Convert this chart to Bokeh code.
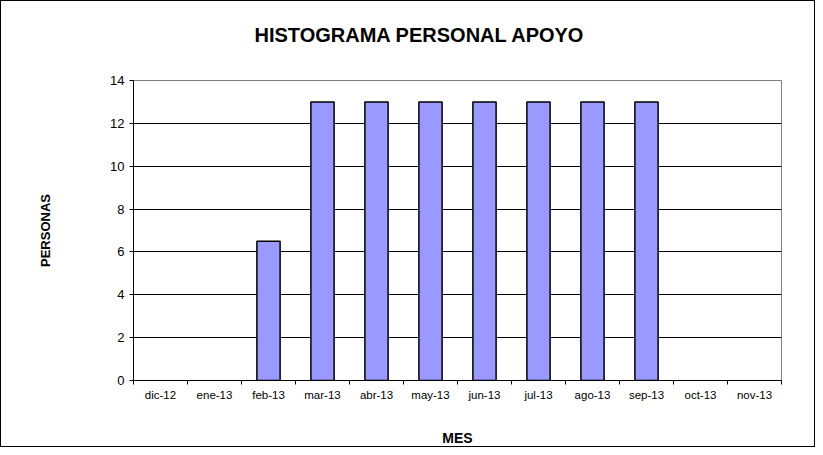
from bokeh.plotting import figure
from bokeh.models import FixedTicker, Range1d, Title, ColumnDataSource
from bokeh.embed import file_html
from bokeh.resources import INLINE

months = ["dic-12", "ene-13", "feb-13", "mar-13", "abr-13", "may-13",
          "jun-13", "jul-13", "ago-13", "sep-13", "oct-13", "nov-13"]
personas = [0, 0, 6.5, 13, 13, 13, 13, 13, 13, 13, 0, 0]
y_ticks = [0, 2, 4, 6, 8, 10, 12, 14]

idx = list(range(len(months)))
centers = [i + 0.5 for i in idx]
bounds = list(range(len(months) + 1))
show = [v > 0 for v in personas]
src = ColumnDataSource(dict(
    x=[c for c, s in zip(centers, show) if s],
    top=[v for v, s in zip(personas, show) if s],
))

p = figure(width=815, height=447, output_backend="svg", toolbar_location=None,
           x_range=Range1d(0, len(months)), y_range=Range1d(0, 14),
           min_border_left=132, min_border_right=35, min_border_top=79,
           min_border_bottom=68,
           styles={"border": "1px solid #000000"})
p.title = None
spacer = Title(text=" ", text_font_size="30px", standoff=0)
p.add_layout(spacer, "above")
t = Title(text="HISTOGRAMA PERSONAL APOYO", align="left", offset=121,
          text_font="Liberation Sans", text_font_size="20px",
          text_font_style="bold", text_color="#000000", standoff=0)
p.add_layout(t, "above")

p.vbar(x="x", top="top", width=0.43, bottom=0, source=src,
       fill_color="#9999FF", line_color="#000000", line_width=1.5)

p.outline_line_color = "#808080"
p.outline_line_width = 1
p.background_fill_color = "#ffffff"
p.border_fill_color = "#ffffff"

p.xgrid.visible = False
p.ygrid.ticker = FixedTicker(ticks=y_ticks[:-1])
p.ygrid.grid_line_color = "#000000"
p.ygrid.grid_line_width = 1

p.yaxis.ticker = FixedTicker(ticks=y_ticks)
p.yaxis.axis_line_color = "#000000"
p.yaxis.major_tick_line_color = "#000000"
p.yaxis.major_tick_out = 4
p.yaxis.major_tick_in = 0
p.yaxis.minor_tick_line_color = None
p.yaxis.major_label_text_font = "Liberation Sans"
p.yaxis.major_label_text_font_size = "13px"
p.yaxis.major_label_text_color = "#000000"
p.yaxis.major_label_standoff = 5
p.yaxis.axis_label = "PERSONAS"
p.yaxis.axis_label_text_font = "Liberation Sans"
p.yaxis.axis_label_text_font_size = "13px"
p.yaxis.axis_label_text_font_style = "bold"
p.yaxis.axis_label_text_color = "#000000"
p.yaxis.axis_label_standoff = 54

p.xaxis.ticker = FixedTicker(ticks=centers, minor_ticks=bounds)
p.xaxis.major_label_overrides = {c: m for c, m in zip(centers, months)}
p.xaxis.axis_line_color = "#000000"
p.xaxis.major_tick_line_color = None
p.xaxis.minor_tick_line_color = "#000000"
p.xaxis.minor_tick_out = 4
p.xaxis.minor_tick_in = 0
p.xaxis.major_label_text_font = "Liberation Sans"
p.xaxis.major_label_text_font_size = "11.5px"
p.xaxis.major_label_text_color = "#000000"
p.xaxis.major_label_standoff = 2
p.xaxis.axis_label = "MES"
p.xaxis.axis_label_text_font = "Liberation Sans"
p.xaxis.axis_label_text_font_size = "14px"
p.xaxis.axis_label_text_font_style = "bold"
p.xaxis.axis_label_text_color = "#000000"
p.xaxis.axis_label_standoff = 26

open("out.html", "w").write(file_html(p, INLINE))
